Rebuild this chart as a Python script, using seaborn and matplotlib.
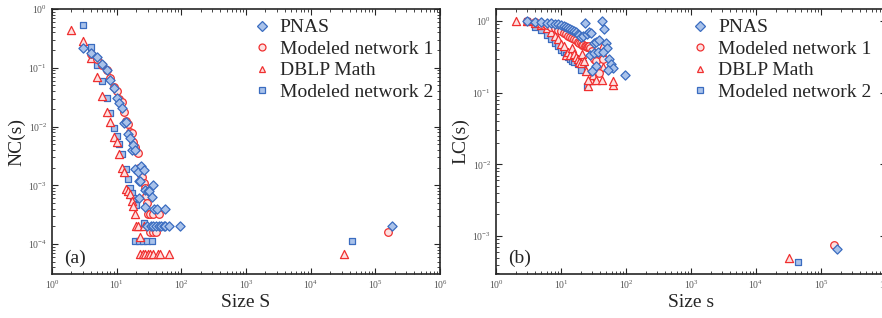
import matplotlib
matplotlib.use("Agg")
import matplotlib.pyplot as plt
import seaborn as sns
from matplotlib.lines import Line2D

# ---- panel (a): NC(s) ----
a_pnas_x = [3, 4, 5, 6, 7, 8, 9, 10, 11, 12, 13, 14, 15, 16, 17, 18, 19, 19, 21, 22, 23, 24, 26,
            27, 30, 32, 35, 37, 22, 27, 38, 42, 55, 29, 34, 37, 41, 45, 48, 53, 56, 65, 97, 178000]
a_pnas_y = [0.22, 0.18, 0.15, 0.114, 0.091, 0.063, 0.045, 0.031, 0.025, 0.021, 0.0115, 0.012, 0.0074,
            0.0065, 0.004, 0.0048, 0.004, 0.0019, 0.0017, 0.0012, 0.0012, 0.0021, 0.0018,
            0.00083, 0.0008, 0.0008, 0.00064, 0.001, 0.0006, 0.00042, 0.0004, 0.0004, 0.0004,
            0.0002, 0.0002, 0.0002, 0.0002, 0.0002, 0.0002, 0.0002, 0.0002, 0.0002, 0.0002, 0.0002]

a_mod1_x = [4, 5, 6, 7, 8, 9, 10, 11, 12, 13, 14, 15, 16, 17, 18, 19, 20, 21, 22, 24, 25, 26, 27,
            28, 29, 30, 33, 37, 45, 33, 36, 40, 158000]
a_mod1_y = [0.17, 0.14, 0.11, 0.09, 0.067, 0.048, 0.04, 0.03, 0.026, 0.018, 0.0125, 0.011, 0.0081,
            0.0078, 0.0055, 0.0045, 0.0038, 0.0035, 0.002, 0.0015, 0.0014, 0.0011, 0.0009,
            0.00065, 0.0005, 0.00033, 0.00033, 0.00033, 0.00033, 0.00016, 0.00016, 0.00016, 0.00016]

a_dblp_x = [2, 3, 4, 5, 6, 7, 8, 9, 10, 11, 12, 13, 14, 15, 16, 17, 18, 19, 20, 21, 23, 26,
            22.6, 25.4, 27.9, 30.3, 33, 36, 43, 47, 64, 33000]
a_dblp_y = [0.44, 0.28, 0.145, 0.07, 0.033, 0.018, 0.0118, 0.0067, 0.0055, 0.0034, 0.002, 0.0017,
            0.00085, 0.0008, 0.0007, 0.00055, 0.00045, 0.00033, 0.0002, 0.0002, 0.000134, 0.0002,
            6.7e-5, 6.7e-5, 6.7e-5, 6.7e-5, 6.7e-5, 6.7e-5, 6.7e-5, 6.7e-5, 6.7e-5, 6.7e-5]

a_mod2_x = [3, 4, 5, 6, 7, 8, 9, 10, 11, 12, 14, 15, 16, 17, 18, 20, 26,
            19, 21.8, 25.4, 29.6, 34.8, 43000]
a_mod2_y = [0.53, 0.23, 0.11, 0.06, 0.031, 0.017, 0.0093, 0.007, 0.0051, 0.0034, 0.0019, 0.00126,
            0.0009, 0.00075, 0.0006, 0.00046, 0.00023,
            0.000114, 0.000114, 0.000114, 0.000114, 0.000114, 0.000114]

# ---- panel (b): LC(s) ----
b_pnas_x = [3, 4, 5, 6, 7, 8, 9, 10, 11, 12, 13, 14, 15, 16, 17, 18, 19, 20, 22, 23.4, 25, 27, 29,
            43, 46, 32.6, 35, 38, 28, 32, 37, 48.6, 51, 44, 35, 30, 55, 58, 62, 53, 97, 178000]
b_pnas_y = [1.0, 0.98, 0.96, 0.95, 0.93, 0.92, 0.9, 0.88, 0.85, 0.83, 0.8, 0.78, 0.75, 0.73, 0.7,
            0.67, 0.65, 0.6, 0.63, 0.93, 0.67, 0.7, 0.68,
            1.0, 0.79, 0.5, 0.52, 0.55, 0.34, 0.36, 0.37, 0.49, 0.42, 0.37, 0.235, 0.2,
            0.3, 0.25, 0.22, 0.21, 0.18, 0.00066]

b_mod1_x = [3, 4, 5, 6, 7, 8, 9, 10, 11, 12, 13, 14, 15, 16, 17, 18, 19, 20, 21, 22, 23, 24, 25,
            26, 27, 28, 30, 32, 35, 38, 42, 45, 160000]
b_mod1_y = [1.0, 0.97, 0.92, 0.88, 0.84, 0.8, 0.76, 0.72, 0.69, 0.66, 0.63, 0.6, 0.58, 0.56, 0.54,
            0.52, 0.5, 0.49, 0.47, 0.46, 0.45, 0.45, 0.44, 0.43, 0.45, 0.42, 0.38, 0.3, 0.28,
            0.19, 0.35, 0.3, 0.00074]

b_dblp_x = [2, 3, 4, 5, 6, 7, 8, 9, 10, 11, 12, 13, 14, 15, 16, 17, 18, 19, 20, 21, 22.6, 24,
            26.3, 29, 31, 35, 42, 44, 44.5, 63, 64, 26, 32000]
b_dblp_y = [1.0, 1.0, 0.95, 0.88, 0.8, 0.7, 0.63, 0.56, 0.48, 0.45, 0.34, 0.37, 0.34, 0.42, 0.35,
            0.32, 0.3, 0.27, 0.26, 0.35, 0.28, 0.2, 0.125, 0.15, 0.18, 0.15, 0.15, 0.46,
            0.23, 0.13, 0.146, 0.15, 0.0005]

b_mod2_x = [3, 4, 5, 6, 7, 8, 9, 10, 11, 12, 13, 14, 15, 16, 18, 20, 22, 25.4, 44000]
b_mod2_y = [1.0, 0.83, 0.75, 0.65, 0.56, 0.5, 0.45, 0.4, 0.37, 0.34, 0.32, 0.3, 0.28, 0.27, 0.25,
            0.21, 0.26, 0.124, 0.00044]

labels = ["PNAS", "Modeled network 1", "DBLP Math", "Modeled network 2"]

sns.set_style("ticks")
plt.rcParams["font.family"] = ["Liberation Serif", "DejaVu Serif"]
plt.rcParams["mathtext.fontset"] = "stix"

BLUE_E, BLUE_F = "#3a6cc0", "#a9c2ea"
RED_E, RED_F = "#f03030", "#fde0e0"

estilos = {
    "PNAS": dict(marker="D", s=22, color=BLUE_F, edgecolor=BLUE_E),
    "Modeled network 1": dict(marker="o", s=30, color=RED_F, edgecolor=RED_E),
    "DBLP Math": dict(marker="^", s=34, color=RED_F, edgecolor=RED_E),
    "Modeled network 2": dict(marker="s", s=22, color=BLUE_F, edgecolor=BLUE_E),
}

fig = plt.figure(figsize=(8.82, 3.18), dpi=100)
ax_a = fig.add_axes([52 / 882, 44 / 318, 388 / 882, 265 / 318])
ax_b = fig.add_axes([496 / 882, 44 / 318, 390 / 882, 265 / 318])

paneles = [
    (ax_a, [(a_mod2_x, a_mod2_y, "Modeled network 2"), (a_dblp_x, a_dblp_y, "DBLP Math"),
            (a_mod1_x, a_mod1_y, "Modeled network 1"), (a_pnas_x, a_pnas_y, "PNAS")],
     (3.1e-5, 1.0), "Size S", "NC(s)", "(a)", 0.5),
    (ax_b, [(b_mod2_x, b_mod2_y, "Modeled network 2"), (b_dblp_x, b_dblp_y, "DBLP Math"),
            (b_mod1_x, b_mod1_y, "Modeled network 1"), (b_pnas_x, b_pnas_y, "PNAS")],
     (2.95e-4, 1.48), "Size s", "LC(s)", "(b)", 0.483),
]

for ax, series, ylim, xlab, ylab, tag, leg_x in paneles:
    for xs, ys, nombre in series:
        sns.scatterplot(x=xs, y=ys, ax=ax, linewidth=0.9, **estilos[nombre])
    ax.set_xscale("log")
    ax.set_yscale("log")
    ax.set_xlim(1, 1e6)
    ax.set_ylim(*ylim)
    ax.set_xlabel(xlab, fontsize=14, labelpad=2)
    ax.set_ylabel(ylab, fontsize=14, labelpad=2)
    ax.tick_params(which="both", direction="in", top=True, right=True,
                   labelsize=7, labelcolor="#555555")
    ax.tick_params(which="major", length=4, width=0.8)
    ax.tick_params(which="minor", length=2, width=0.6)
    for sp in ax.spines.values():
        sp.set_linewidth(1.2)
    ax.text(0.03, 0.04, tag, transform=ax.transAxes, fontsize=14)

    handles = [Line2D([], [], linestyle="none", marker=estilos[n]["marker"],
                      markersize=5, markerfacecolor=estilos[n]["color"],
                      markeredgecolor=estilos[n]["edgecolor"], markeredgewidth=0.9)
               for n in labels]
    ax.legend(handles, labels, loc="upper left", bbox_to_anchor=(leg_x, 1.0), frameon=False,
              fontsize=14, handletextpad=0.63, labelspacing=0.2, handlelength=0.6,
              borderaxespad=0.1)

fig.savefig("out.png", dpi=100)
